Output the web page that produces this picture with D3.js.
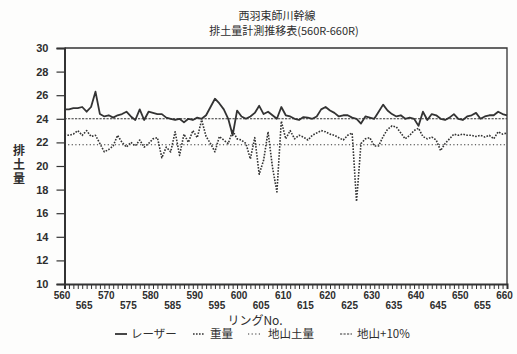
<!DOCTYPE html>
<html>
<head>
<meta charset="utf-8">
<script src="https://cdn.jsdelivr.net/npm/d3@7"></script>
<style>
  html, body { margin: 0; padding: 0; background: #fdfdfc; }
  svg { display: block; }
  .jp { font-family: "Noto Sans CJK JP", "Noto Sans", sans-serif; fill: #2e2e2e; }
  .num { font-family: "Liberation Sans Narrow", "Liberation Sans", Arial, sans-serif; fill: #2e2e2e; }
</style>
</head>
<body>
<svg id="chart" width="517" height="354"></svg>
<script>
// Ring numbers on the x axis
const rings = d3.range(560, 661);

// Measured spoil volume per ring (laser), 560R–660R
const laser = [
  24.8, 24.8, 24.9, 24.9, 25.0, 24.6, 25.0, 26.3, 24.4, 24.2,
  24.3, 24.1, 24.3, 24.4, 24.6, 24.2, 23.9, 24.8, 23.9, 24.6,
  24.5, 24.4, 24.4, 24.1, 24.0, 23.9, 24.0, 23.7, 24.0, 23.9,
  24.1, 24.0, 24.3, 25.0, 25.7, 25.3, 24.8, 24.0, 22.6, 24.7,
  24.2, 24.0, 24.2, 24.5, 25.1, 24.4, 24.6, 24.3, 24.0, 25.0,
  24.3, 24.2, 24.0, 23.9, 24.15, 24.1, 24.0, 24.2, 24.8, 25.0,
  24.7, 24.5, 24.2, 24.3, 24.3, 24.1, 24.0, 23.6, 24.2, 24.1,
  24.0, 24.6, 25.2, 24.7, 24.4, 24.2, 24.3, 24.0, 24.1, 24.0,
  23.4, 24.6, 23.9, 24.4, 24.3, 24.0, 23.9, 24.1, 24.4, 24.0,
  23.9, 24.2, 24.3, 24.5, 24.0, 24.2, 24.3, 24.3, 24.6, 24.4,
  24.3
];

// Spoil volume per ring derived from weight
const weight = [
  22.7, 22.6, 22.7, 23.0, 22.6, 23.0, 22.5, 22.6, 21.9, 21.2,
  21.4, 21.7, 22.6, 22.0, 21.6, 22.0, 21.7, 22.2, 21.6, 21.9,
  22.3, 22.4, 20.7, 21.6, 21.2, 22.9, 20.9, 22.7, 22.0, 23.0,
  22.4, 23.9, 22.5, 21.9, 21.2, 22.5, 22.2, 21.9, 23.0, 22.3,
  22.2, 21.9, 20.6, 22.4, 19.3, 20.5, 22.9, 19.9, 17.8, 23.8,
  22.3, 23.0, 22.3, 22.6, 22.45, 22.2, 22.6, 22.8, 23.0, 22.9,
  22.7, 22.6, 22.4, 22.2, 22.6, 22.8, 17.0, 21.9, 22.3, 22.4,
  21.7, 21.7, 22.5, 23.1, 23.4, 23.3, 22.8, 22.3, 22.6, 23.0,
  23.2, 22.5, 22.3, 22.45, 22.2, 21.3, 21.9, 22.3, 22.7, 22.6,
  22.7, 22.6, 22.6, 22.5, 22.6, 22.45, 22.6, 22.3, 22.9, 22.7,
  22.8
];

// Reference levels: in-situ ground volume and ground volume +10%
const groundVolume = [21.8, 21.8];
const groundPlus10 = [24.0, 24.0];
const refRings = [560, 660];

// Axis tick values
const yTicks = [10, 12, 14, 16, 18, 20, 22, 24, 26, 28, 30];
const xLabelsUpper = [560, 570, 580, 590, 600, 610, 620, 630, 640, 650, 660];
const xLabelsLower = [565, 575, 585, 595, 605, 615, 625, 635, 645, 655];

// Text
const titleLine1 = "西羽束師川幹線";
const titleLine2 = "排土量計測推移表(560R-660R)";
const yTitle = "排土量";
const xTitle = "リングNo.";
const legendItems = [
  { label: "レーザー", key: "laser" },
  { label: "重量", key: "weight" },
  { label: "地山土量", key: "ground" },
  { label: "地山+10%", key: "plus10" }
];

const ink = "#333";
const styles = {
  laser:  { dash: null,      width: 1.8 },
  weight: { dash: "1.6,1.4", width: 1.6 },
  ground: { dash: "1.2,2.4", width: 1.2 },
  plus10: { dash: "2.2,1.3", width: 1.1 }
};

const svg = d3.select("#chart");
const plot = { left: 64.5, right: 507, top: 48, bottom: 284 };

const x = d3.scaleLinear().domain([560, 660]).range([plot.left, plot.right]);
const y = d3.scaleLinear().domain([10, 30]).range([plot.bottom, plot.top]);

// Titles
svg.append("text").attr("class", "jp")
  .attr("x", 277).attr("y", 20).attr("text-anchor", "middle")
  .attr("font-size", 11).text(titleLine1);
svg.append("text").attr("class", "jp")
  .attr("x", 284).attr("y", 35).attr("text-anchor", "middle")
  .attr("font-size", 11).text(titleLine2);

// Plot frame (top and right edges)
svg.append("path")
  .attr("d", `M${plot.left},${plot.top}H${plot.right}V${plot.bottom}`)
  .attr("fill", "none").attr("stroke", ink).attr("stroke-width", 1.3);

// Y axis
const yAxis = svg.append("g")
  .attr("transform", `translate(${plot.left},0)`)
  .call(d3.axisLeft(y).tickValues(yTicks).tickSize(8).tickPadding(8).tickFormat(d3.format("d")));
yAxis.select(".domain").attr("stroke", ink).attr("stroke-width", 2);
yAxis.selectAll(".tick line").attr("stroke", ink).attr("stroke-width", 1.2);
yAxis.selectAll(".tick text").attr("class", "num")
  .attr("font-size", 11).attr("font-weight", "bold").attr("fill", "#333");

// X axis: a tick at every ring
const xAxis = svg.append("g")
  .attr("transform", `translate(0,${plot.bottom})`)
  .call(d3.axisBottom(x).tickValues(rings).tickSize(5).tickFormat(""));
xAxis.select(".domain").attr("stroke", ink).attr("stroke-width", 2);
xAxis.selectAll(".tick line").attr("stroke", ink).attr("stroke-width", 1);

// X labels in two staggered rows
const xRow1 = svg.append("g")
  .attr("transform", `translate(0,${plot.bottom})`)
  .call(d3.axisBottom(x).tickValues(xLabelsUpper).tickSize(0).tickPadding(8).tickFormat(d3.format("d")));
const xRow2 = svg.append("g")
  .attr("transform", `translate(0,${plot.bottom})`)
  .call(d3.axisBottom(x).tickValues(xLabelsLower).tickSize(0).tickPadding(18).tickFormat(d3.format("d")));
[xRow1, xRow2].forEach(g => {
  g.select(".domain").remove();
  g.selectAll(".tick text").attr("class", "num")
    .attr("font-size", 10).attr("font-weight", "bold").attr("fill", "#333")
    .attr("dx", -3);
});

// Axis titles (y title set vertically)
svg.append("text").attr("class", "jp")
  .attr("x", 19).attr("y", 165)
  .attr("writing-mode", "vertical-rl")
  .attr("text-anchor", "middle")
  .attr("letter-spacing", 2)
  .attr("font-size", 12).attr("font-weight", "bold")
  .text(yTitle);
svg.append("text").attr("class", "jp")
  .attr("x", 255).attr("y", 325).attr("text-anchor", "middle")
  .attr("font-size", 12).text(xTitle);

// Series
const line = d3.line().x((d, i) => x(rings[i])).y(d => y(d));
const refLine = d3.line().x((d, i) => x(refRings[i])).y(d => y(d));

function drawPath(gen, data, key) {
  const s = styles[key];
  svg.append("path").datum(data)
    .attr("d", gen)
    .attr("fill", "none")
    .attr("stroke", ink)
    .attr("stroke-width", s.width)
    .attr("stroke-dasharray", s.dash)
    .attr("stroke-linejoin", "round");
}
drawPath(refLine, groundPlus10, "plus10");
drawPath(refLine, groundVolume, "ground");
drawPath(line, weight, "weight");
drawPath(line, laser, "laser");

// Legend
const legendPos = [
  { sx: 115, tx: 131 },
  { sx: 193, tx: 210 },
  { sx: 248, tx: 268 },
  { sx: 340, tx: 357 }
];
const ly = 338;
legendItems.forEach((item, i) => {
  const s = styles[item.key];
  const p = legendPos[i];
  svg.append("line")
    .attr("x1", p.sx).attr("x2", p.sx + 12)
    .attr("y1", ly - 4).attr("y2", ly - 4)
    .attr("stroke", ink).attr("stroke-width", s.width)
    .attr("stroke-dasharray", s.dash);
  svg.append("text").attr("class", "jp")
    .attr("x", p.tx).attr("y", ly).attr("font-size", 11.5)
    .text(item.label);
});
</script>
</body>
</html>
